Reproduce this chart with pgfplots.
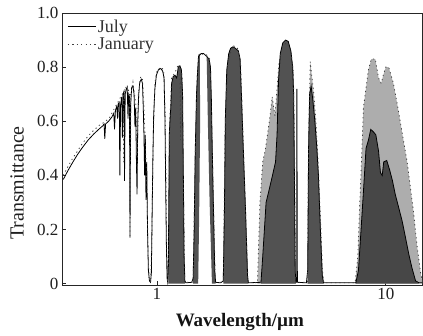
\documentclass[border=0pt]{standalone}
\usepackage{fontspec}
\setmainfont{Liberation Serif}
\usepackage{pgfplots}
\pgfplotsset{compat=1.18}
\begin{document}
\begin{tikzpicture}
\useasboundingbox (0,0) rectangle (423bp,336bp);
\begin{axis}[
  at={(62bp,51bp)}, anchor=south west,
  scale only axis, width=360bp, height=272bp,
  xmode=log, xmin=0.385, xmax=14.4, ymin=-0.005, ymax=1.0,
  xtick={1,10}, xticklabels={1,10}, xminorticks=false,
  ytick={0,0.2,0.4,0.6,0.8,1.0}, yticklabels={0,0.2,0.4,0.6,0.8,1.0},
  tick align=inside, tick pos=left, major tick length=4bp,
  tick style={black!85, line width=0.7pt},
  axis line style={black!85, line width=0.9pt},
  tick label style={font=\fontsize{17bp}{20bp}\selectfont, text=black!88},
  xlabel={Wavelength/µm},
  xlabel style={font=\fontsize{19bp}{22bp}\selectfont\bfseries, text=black!92, at={(axis description cs:0.494,-0.135)}, anchor=center},
  ylabel={Transmittance},
  ylabel style={font=\fontsize{20bp}{24bp}\selectfont, text=black!88, at={(axis description cs:-0.125,0.375)}, anchor=center},
  legend style={draw=none, fill=none, at={(axis description cs:0.012,0.985)}, anchor=north west,
    font=\fontsize{18bp}{21bp}\selectfont, text=black!80, row sep=1bp, inner sep=1bp,
    nodes={inner sep=1.5bp}},
  legend cell align=left,
  legend image code/.code={\draw[#1] (0bp,0bp) -- (28bp,0bp);},
]
% ---- January dense areas (light) ----
\addplot[draw=none, fill=black!32, forget plot] coordinates {
(2.75,0) (2.82,0.30) (2.90,0.45) (2.97,0.49) (3.03,0.54) (3.10,0.60) (3.19,0.69) (3.28,0.62)
(3.35,0.72) (3.42,0.82) (3.55,0.88) (3.70,0.89) (3.85,0.86) (3.95,0.78) (4.00,0.45) (4.04,0) (2.75,0)};
\addplot[draw=none, fill=black!32, forget plot] coordinates {
(4.55,0) (4.60,0.55) (4.68,0.82) (4.75,0.77) (4.85,0.70) (4.95,0.60) (5.05,0.47) (5.18,0.25) (5.29,0.05) (5.36,0) (4.55,0)};
\addplot[draw=none, fill=black!32, forget plot] coordinates {
(7.35,0) (7.55,0.10) (7.70,0.30) (7.80,0.41) (7.99,0.65) (8.40,0.79) (8.65,0.83) (9.00,0.83) (9.30,0.76)
(9.55,0.74) (9.75,0.77) (10.0,0.80) (10.3,0.80) (10.8,0.74) (11.3,0.65) (12.0,0.52) (12.4,0.45)
(13.2,0.27) (13.7,0.14) (14.2,0.04) (14.5,0) (7.35,0)};
% ---- July dense areas (dark) ----
\addplot[draw=none, fill=black!68, forget plot] coordinates {
(1.122,0) (1.128,0.33) (1.133,0.55) (1.140,0.60) (1.150,0.65) (1.160,0.74) (1.178,0.765) (1.200,0.77)
(1.220,0.76) (1.240,0.80) (1.260,0.805) (1.280,0.79) (1.295,0.70) (1.305,0.40) (1.315,0.10) (1.325,0) (1.122,0)};
\addplot[draw=none, fill=black!68, forget plot] coordinates {
(1.44,0) (1.455,0.2) (1.47,0.48) (1.49,0.70) (1.505,0.78) (1.52,0.84) (1.54,0.85) (1.545,0.6) (1.53,0.25) (1.515,0) (1.44,0)};
\addplot[draw=none, fill=black!68, forget plot] coordinates {
(1.65,0.84) (1.69,0.83) (1.715,0.80) (1.73,0.68) (1.75,0.45) (1.77,0.25) (1.79,0.05) (1.805,0) (1.74,0) (1.70,0.3) (1.67,0.6) (1.65,0.84)};
\addplot[draw=none, fill=black!68, forget plot] coordinates {
(1.95,0) (1.975,0.3) (1.99,0.6) (2.02,0.79) (2.06,0.85) (2.10,0.87) (2.15,0.875) (2.20,0.87) (2.27,0.86)
(2.31,0.83) (2.345,0.68) (2.385,0.50) (2.44,0.27) (2.49,0.03) (2.51,0) (1.95,0)};
\addplot[draw=none, fill=black!68, forget plot] coordinates {
(2.85,0) (2.90,0.10) (3.00,0.30) (3.10,0.35) (3.20,0.40) (3.30,0.45) (3.35,0.55) (3.40,0.75) (3.46,0.85)
(3.55,0.89) (3.65,0.90) (3.75,0.895) (3.85,0.86) (3.92,0.80) (3.96,0.70) (3.99,0.40) (4.02,0.05) (4.05,0) (2.85,0)};
\addplot[draw=none, fill=black!68, forget plot] coordinates {
(4.56,0) (4.60,0.50) (4.65,0.70) (4.72,0.73) (4.80,0.68) (4.90,0.60) (5.00,0.50) (5.08,0.40) (5.18,0.20) (5.28,0.03) (5.35,0) (4.56,0)};
\addplot[draw=none, fill=black!72, forget plot] coordinates {
(7.40,0) (7.60,0.05) (7.80,0.20) (7.99,0.34) (8.20,0.50) (8.40,0.53) (8.60,0.57) (8.85,0.56) (9.05,0.55)
(9.30,0.49) (9.48,0.41) (9.65,0.40) (9.80,0.45) (10.10,0.455) (10.40,0.42) (10.70,0.38) (11.00,0.33)
(11.40,0.28) (11.80,0.23) (12.20,0.17) (12.60,0.11) (13.00,0.06) (13.50,0.01) (14.00,0) (7.40,0)};
% ---- July line ----
\addplot[black, line width=0.8pt] coordinates {
(0.390,0.385) (0.410,0.420) (0.430,0.450) (0.450,0.477) (0.470,0.500) (0.500,0.530) (0.530,0.553)
(0.560,0.572) (0.580,0.583) (0.588,0.590) (0.592,0.535) (0.597,0.590) (0.615,0.600) (0.635,0.615)
(0.648,0.630) (0.653,0.570) (0.659,0.640) (0.668,0.655) (0.673,0.610) (0.678,0.665) (0.685,0.670)
(0.689,0.400) (0.694,0.660) (0.702,0.690) (0.707,0.540) (0.712,0.700) (0.718,0.710) (0.722,0.380)
(0.727,0.700) (0.735,0.720) (0.742,0.725) (0.748,0.610) (0.753,0.700) (0.759,0.690) (0.763,0.170)
(0.768,0.660) (0.776,0.725) (0.786,0.730) (0.795,0.700) (0.802,0.580) (0.808,0.650) (0.814,0.450)
(0.819,0.330) (0.825,0.600) (0.833,0.700) (0.842,0.745) (0.855,0.755) (0.865,0.740) (0.872,0.650)
(0.878,0.550) (0.884,0.400) (0.890,0.550) (0.896,0.310) (0.903,0.450) (0.910,0.200) (0.918,0.050)
(0.928,0.010) (0.938,0.005) (0.946,0.040) (0.953,0.250) (0.960,0.450) (0.968,0.620) (0.980,0.720)
(0.995,0.770) (1.015,0.790) (1.040,0.795) (1.060,0.785) (1.075,0.760) (1.085,0.600) (1.093,0.350)
(1.100,0.150) (1.108,0.020) (1.115,0.005) (1.122,0.050) (1.128,0.330) (1.133,0.550) (1.140,0.600)
(1.150,0.650) (1.160,0.740) (1.178,0.765) (1.200,0.770) (1.220,0.760) (1.240,0.800) (1.260,0.805)
(1.280,0.790) (1.295,0.700) (1.305,0.400) (1.315,0.100) (1.325,0.010) (1.340,0.003) (1.420,0.005)
(1.440,0.020) (1.455,0.200) (1.470,0.480) (1.490,0.700) (1.505,0.780) (1.520,0.840) (1.560,0.850)
(1.600,0.850) (1.650,0.840) (1.690,0.830) (1.715,0.800) (1.730,0.680) (1.750,0.450) (1.770,0.250)
(1.790,0.050) (1.805,0.005) (1.900,0.003) (1.950,0.010) (1.975,0.300) (1.990,0.600) (2.020,0.790)
(2.060,0.850) (2.100,0.870) (2.150,0.875) (2.200,0.870) (2.270,0.860) (2.310,0.830) (2.345,0.680)
(2.385,0.500) (2.440,0.270) (2.490,0.030) (2.510,0.003) (2.850,0.005) (2.900,0.100) (3.000,0.300)
(3.100,0.350) (3.200,0.400) (3.300,0.450) (3.350,0.550) (3.400,0.750) (3.460,0.850) (3.550,0.890)
(3.650,0.900) (3.750,0.895) (3.850,0.860) (3.920,0.800) (3.960,0.700) (3.990,0.400) (4.020,0.050)
(4.050,0.005) (4.080,0.005) (4.090,0.720) (4.110,0.005) (4.500,0.003) (4.560,0.050) (4.600,0.500)
(4.650,0.700) (4.720,0.730) (4.800,0.680) (4.900,0.600) (5.000,0.500) (5.080,0.400) (5.180,0.200)
(5.280,0.030) (5.350,0.003) (7.400,0.003) (7.600,0.050) (7.800,0.200) (7.990,0.340) (8.200,0.500)
(8.400,0.530) (8.600,0.570) (8.850,0.560) (9.050,0.550) (9.300,0.490) (9.480,0.410) (9.650,0.400)
(9.800,0.450) (10.10,0.455) (10.40,0.420) (10.70,0.380) (11.00,0.330) (11.40,0.280) (11.80,0.230)
(12.20,0.170) (12.60,0.110) (13.00,0.060) (13.50,0.010) (14.00,0.003) (14.50,0.003)};
\addlegendentry{July}
% ---- January line ----
\addplot[black!75, line width=0.8pt, dash pattern=on 1.2bp off 3.2bp] coordinates {
(0.390,0.400) (0.410,0.435) (0.430,0.465) (0.450,0.490) (0.470,0.515) (0.500,0.545) (0.530,0.567)
(0.560,0.585) (0.590,0.597) (0.620,0.612) (0.650,0.645) (0.680,0.675) (0.700,0.695) (0.712,0.705)
(0.716,0.450) (0.720,0.710) (0.740,0.735) (0.760,0.700) (0.763,0.170) (0.770,0.700) (0.786,0.745)
(0.810,0.660) (0.820,0.420) (0.830,0.700) (0.850,0.765) (0.865,0.755) (0.875,0.680) (0.890,0.520)
(0.905,0.350) (0.915,0.100) (0.925,0.020) (0.938,0.005) (0.950,0.150) (0.962,0.500) (0.980,0.740)
(1.000,0.785) (1.040,0.800) (1.070,0.790) (1.088,0.620) (1.105,0.100) (1.115,0.005) (1.125,0.100)
(1.135,0.580) (1.160,0.760) (1.200,0.780) (1.240,0.810) (1.262,0.790) (1.268,0.530) (1.274,0.800)
(1.290,0.760) (1.310,0.300) (1.325,0.005) (1.440,0.005) (1.470,0.460) (1.500,0.760) (1.530,0.850)
(1.650,0.845) (1.700,0.830) (1.740,0.550) (1.800,0.005) (1.950,0.005) (1.985,0.550) (2.040,0.820)
(2.150,0.880) (2.250,0.870) (2.320,0.820) (2.400,0.450) (2.500,0.005) (2.750,0.003) (2.820,0.300)
(2.900,0.450) (2.970,0.490) (3.030,0.540) (3.100,0.600) (3.190,0.690) (3.280,0.620) (3.350,0.720)
(3.420,0.820) (3.550,0.880) (3.700,0.890) (3.850,0.860) (3.950,0.780) (4.000,0.450) (4.040,0.005)
(4.550,0.005) (4.600,0.550) (4.680,0.820) (4.750,0.770) (4.850,0.700) (4.950,0.600) (5.050,0.470)
(5.180,0.250) (5.290,0.050) (5.360,0.003) (7.350,0.003) (7.550,0.100) (7.700,0.300) (7.800,0.410)
(7.990,0.650) (8.400,0.790) (8.650,0.830) (9.000,0.830) (9.300,0.760) (9.550,0.740) (9.750,0.770)
(10.00,0.800) (10.30,0.800) (10.80,0.740) (11.30,0.650) (12.00,0.520) (12.40,0.450) (13.20,0.270)
(13.70,0.140) (14.20,0.040) (14.50,0.003)};
\addlegendentry{January}
\end{axis}
\end{tikzpicture}
\end{document}
